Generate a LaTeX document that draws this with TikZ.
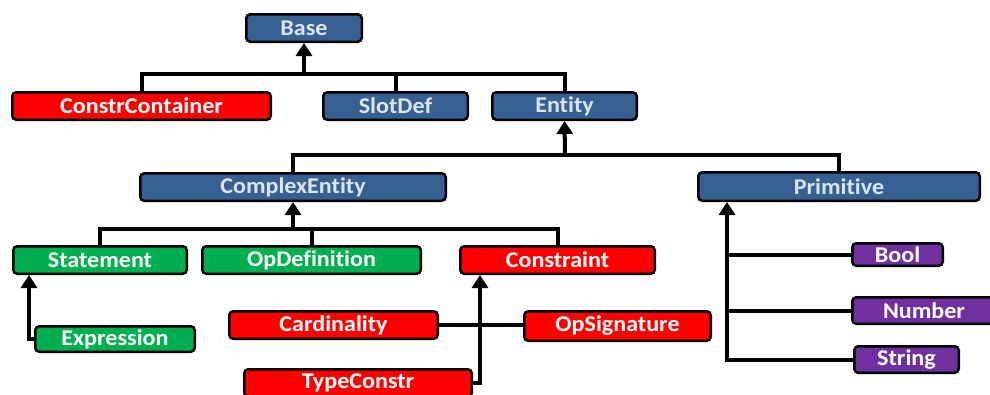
\documentclass[tikz,border=0pt]{standalone}
\usepackage{fontspec}
\setmainfont{Carlito}[FakeStretch=1.07, Ligatures=NoCommon]
\usetikzlibrary{arrows.meta}
\definecolor{cblue}{HTML}{376092}
\definecolor{cbluetext}{HTML}{DCE6F2}
\definecolor{cred}{HTML}{FF0000}
\definecolor{cgreen}{HTML}{00B050}
\definecolor{cpurple}{HTML}{7030A0}
\tikzset{
  box/.style={draw=black, line width=2.5pt, rounded corners=4pt, inner sep=0pt,
    text=white, font=\fontsize{22.5}{25}\selectfont\bfseries, anchor=center},
  bluebox/.style={box, fill=cblue, text=cbluetext},
  redbox/.style={box, fill=cred},
  greenbox/.style={box, fill=cgreen},
  purplebox/.style={box, fill=cpurple},
  conn/.style={draw=black, line width=4pt, line join=miter},
  arr/.style={conn, -{Triangle[width=16pt,length=13pt]}},
}
\begin{document}
\begin{tikzpicture}[x=1pt,y=-1pt]
\useasboundingbox (0,0) rectangle (990,394);
% level 0
\node[bluebox, minimum width=115.5pt, minimum height=27.5pt] (base) at (304,28) {Base};
% level 1
\node[redbox, minimum width=258.5pt, minimum height=27.5pt] (cc) at (141.5,106) {ConstrContainer};
\node[bluebox, minimum width=144.5pt, minimum height=27.5pt] (slot) at (395.5,106) {SlotDef};
\node[bluebox, minimum width=144.5pt, minimum height=27.5pt] (entity) at (564.5,106) {Entity};
% level 2
\node[bluebox, minimum width=305.5pt, minimum height=27.5pt] (complex) at (293,187) {ComplexEntity};
\node[bluebox, minimum width=281.5pt, minimum height=28.5pt] (prim) at (839,186.5) {Primitive};
% level 3
\node[greenbox, minimum width=173.5pt, minimum height=27.5pt] (stmt) at (100,260) {Statement};
\node[greenbox, minimum width=218.5pt, minimum height=27.5pt] (opdef) at (311.5,260) {OpDefinition};
\node[redbox, minimum width=194.5pt, minimum height=27.5pt] (constr) at (557.5,260) {Constraint};
% level 4
\node[greenbox, minimum width=159.5pt, minimum height=25.5pt] (expr) at (115,339) {Expression};
\node[redbox, minimum width=208.5pt, minimum height=27.5pt] (card) at (333.5,325) {Cardinality};
\node[redbox, minimum width=227.5pt, minimum height=27.5pt] (tc) at (358,383) {TypeConstr};
\node[redbox, minimum width=186.5pt, minimum height=29.5pt] (opsig) at (617.5,326) {OpSignature};
\node[purplebox, minimum width=90.5pt, minimum height=22.5pt] (bool) at (897.5,254.5) {Bool};
\node[purplebox, minimum width=143.5pt, minimum height=26.5pt] (number) at (924,310.5) {Number};
\node[purplebox, minimum width=104.5pt, minimum height=26.5pt] (string) at (906.5,359.5) {String};
% bus coordinates
\coordinate (bus1) at (304,74);
\coordinate (bus2) at (565,155);
\coordinate (bus3) at (293,229);
\coordinate (e1) at (29,275);
\coordinate (c1) at (480,275);
\coordinate (p1) at (727,202);
% Base children
\draw[conn] (cc.north) |- (bus1) -| (entity.north);
\draw[conn] (slot.north) -- (slot.north |- bus1);
\draw[arr] (bus1) -- (base.south);
% Entity children
\draw[conn] (complex.north) |- (bus2) -| (prim.north);
\draw[arr] (bus2) -- (entity.south);
% ComplexEntity children
\draw[conn] (stmt.north) |- (bus3) -| (constr.north);
\draw[conn] (opdef.north) -- (opdef.north |- bus3);
\draw[arr] (bus3) -- (complex.south);
% Statement child
\draw[arr] (expr.west) -| (e1);
% Constraint children
\draw[conn] (card.east) -- (card.east -| opsig.west);
\draw[arr] (tc.east) -| (c1);
% Primitive children
\draw[arr] (string.west) -| (p1);
\draw[conn] (bool.west) -- (bool.west -| p1);
\draw[conn] (number.west) -- (number.west -| p1);
\end{tikzpicture}
\end{document}
